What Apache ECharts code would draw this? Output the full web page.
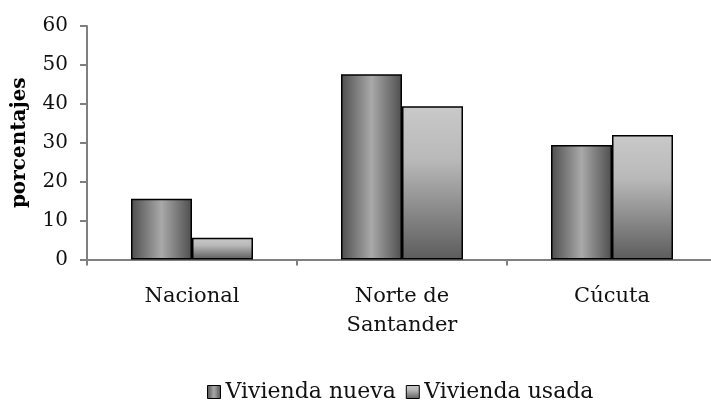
<!DOCTYPE html>
<html>
<head>
<meta charset="utf-8">
<script src="https://cdn.jsdelivr.net/npm/echarts@6/dist/echarts.min.js"></script>
<style>
  html, body { margin: 0; padding: 0; background: #fff; }
  #chart { width: 711px; height: 400px; }
</style>
</head>
<body>
<div id="chart"></div>
<script>
// datos (porcentajes)
const categories = ['Nacional', 'Norte de\nSantander', 'Cúcuta']
const viviendaNueva = [15.6, 47.6, 29.4]
const viviendaUsada = [5.6, 39.4, 32.0]
const yTicks = [0, 10, 20, 30, 40, 50, 60]

const FONT = 'DejaVu Serif'

// relleno "almohada" para vivienda nueva: bordes oscuros, centro claro
const fillNueva = new echarts.graphic.LinearGradient(0, 0, 1, 0, [
  { offset: 0, color: '#4e4e4e' },
  { offset: 0.5, color: '#a9a9a9' },
  { offset: 1, color: '#4e4e4e' }
])
// degradado vertical para vivienda usada
const fillUsada = new echarts.graphic.LinearGradient(0, 0, 0, 1, [
  { offset: 0, color: '#c9c9c9' },
  { offset: 0.35, color: '#b9b9b9' },
  { offset: 1, color: '#5c5c5c' }
])

const chart = echarts.init(document.getElementById('chart'))
chart.setOption({
  animation: false,
  grid: { left: 87, right: -6, top: 26, bottom: 140.5, outerBoundsMode: 'none' },
  legend: {
    left: 207,
    top: 381,
    padding: 0,
    itemWidth: 13,
    itemHeight: 13,
    itemGap: 10,
    icon: 'rect',
    itemStyle: { borderColor: '#000', borderWidth: 1 },
    textStyle: { fontFamily: FONT, fontSize: 22, color: '#111', lineHeight: 18 },
    data: ['Vivienda nueva', 'Vivienda usada']
  },
  xAxis: {
    type: 'category',
    data: categories,
    axisLine: { lineStyle: { color: '#808080', width: 2 } },
    axisTick: { show: true, length: 6, lineStyle: { color: '#808080', width: 2 } },
    axisLabel: { margin: 23, fontFamily: FONT, fontSize: 21, color: '#111', lineHeight: 29 }
  },
  yAxis: {
    type: 'value',
    min: yTicks[0],
    max: yTicks[yTicks.length - 1],
    interval: 10,
    name: 'porcentajes',
    nameLocation: 'middle',
    nameRotate: 90,
    nameGap: 57,
    nameTextStyle: { fontFamily: FONT, fontSize: 20, fontWeight: 'bold', color: '#000' },
    splitLine: { show: false },
    axisLine: { show: true, lineStyle: { color: '#808080', width: 2 } },
    axisTick: { show: true, length: 7, lineStyle: { color: '#808080', width: 2 } },
    axisLabel: { margin: 19, fontFamily: FONT, fontSize: 20, color: '#111' }
  },
  series: [
    {
      name: 'Vivienda nueva',
      type: 'bar',
      data: viviendaNueva,
      barWidth: 61,
      barGap: '0%',
      itemStyle: { color: fillNueva, borderColor: '#000', borderWidth: 1.5 }
    },
    {
      name: 'Vivienda usada',
      type: 'bar',
      data: viviendaUsada,
      barWidth: 61,
      barGap: '0%',
      itemStyle: { color: fillUsada, borderColor: '#000', borderWidth: 1.5 }
    }
  ]
})
</script>
</body>
</html>
